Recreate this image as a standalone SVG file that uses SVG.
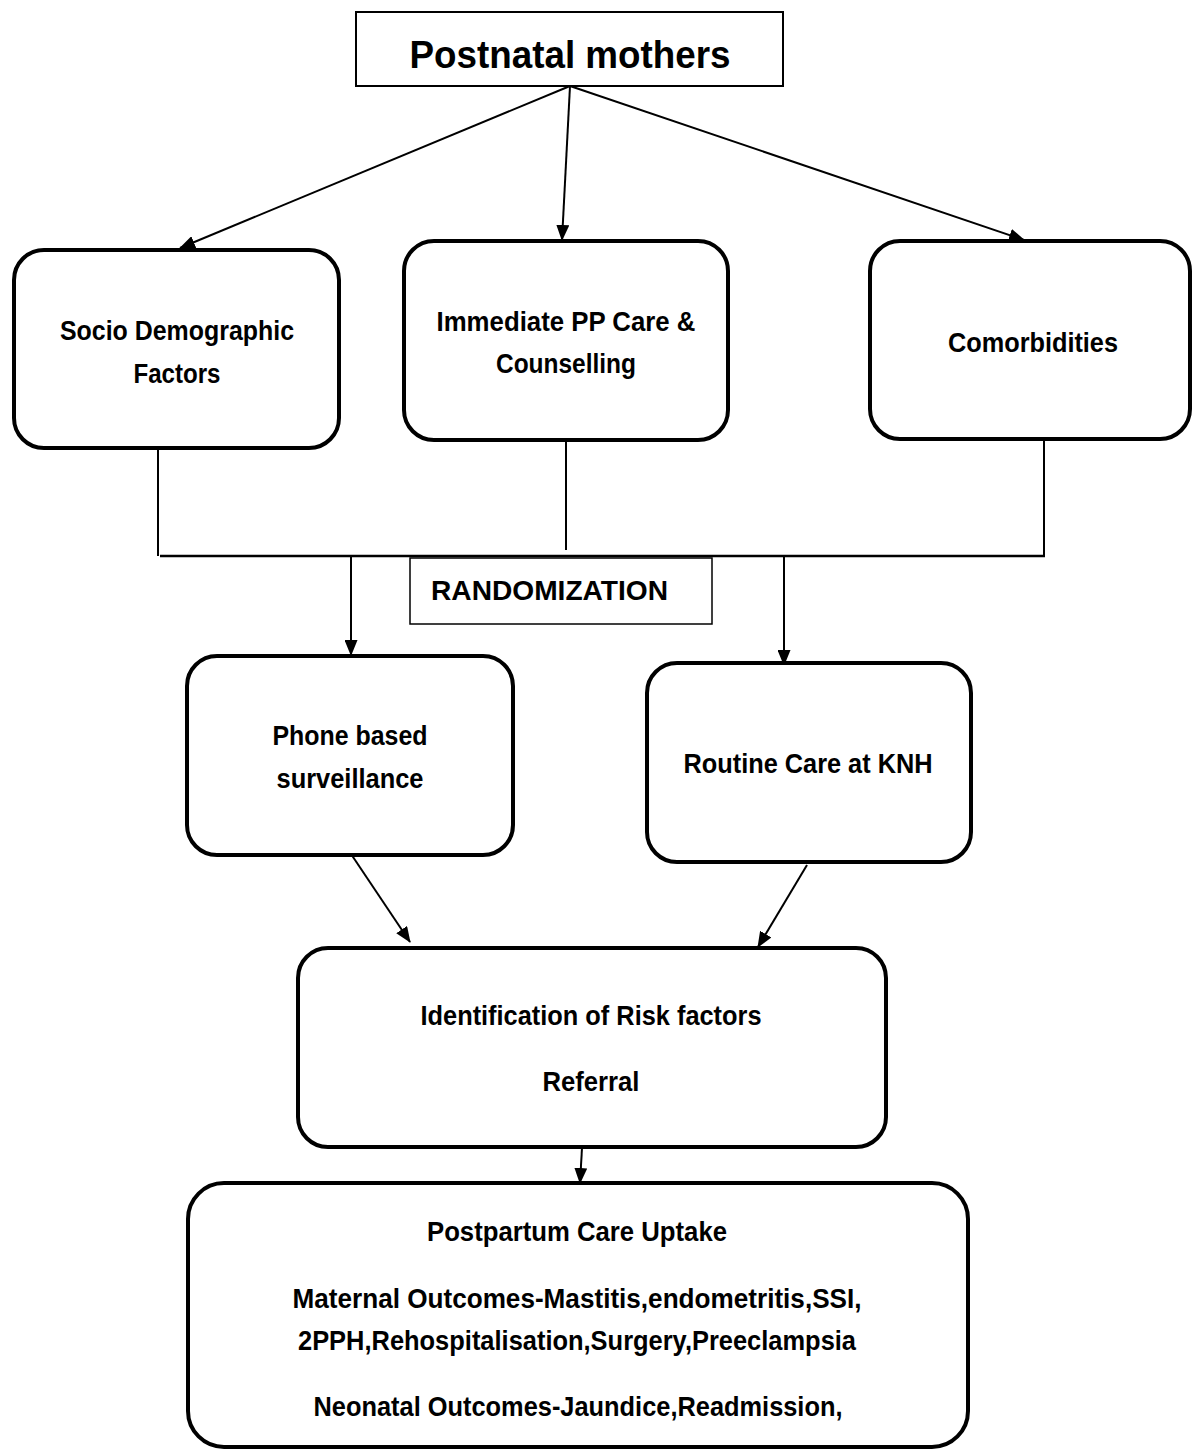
<svg xmlns="http://www.w3.org/2000/svg" width="1192" height="1450" viewBox="0 0 1192 1450">
<style>
  .bg { fill: #ffffff; }
  .node { fill: #ffffff; stroke: #000000; stroke-width: 4; }
  .plain { fill: #ffffff; stroke: #000000; stroke-width: 2; }
  .thin { fill: #ffffff; stroke: #000000; stroke-width: 1.5; }
  .t { font-family: "Liberation Sans", Arial, sans-serif; font-weight: bold; fill: #000000; text-anchor: middle; font-size: 28px; }
  .conn { stroke: #000000; stroke-width: 2; fill: none; }
</style>
<defs>
  <marker id="arr" markerUnits="userSpaceOnUse" markerWidth="16" markerHeight="13" refX="15" refY="6.5" orient="auto">
    <path d="M0,0 L16,6.5 L0,13 Z" fill="#000000"/>
  </marker>
</defs>
<rect class="bg" x="0" y="0" width="1192" height="1450"/>

<g id="connectors">
  <line class="conn" x1="570" y1="86" x2="180" y2="248" marker-end="url(#arr)"/>
  <line class="conn" x1="570" y1="86" x2="562" y2="240" marker-end="url(#arr)"/>
  <line class="conn" x1="570" y1="86" x2="1024" y2="240" marker-end="url(#arr)"/>
  <line class="conn" x1="158" y1="450" x2="158" y2="556"/>
  <line class="conn" x1="566" y1="441" x2="566" y2="550"/>
  <line class="conn" x1="1044" y1="435" x2="1044" y2="557"/>
  <line class="conn" x1="160" y1="556" x2="1045" y2="556" style="stroke-width:2.5"/>
  <line class="conn" x1="351" y1="557" x2="351" y2="655" marker-end="url(#arr)"/>
  <line class="conn" x1="784" y1="557" x2="784" y2="665" marker-end="url(#arr)"/>
  <line class="conn" x1="349" y1="851" x2="410" y2="942" marker-end="url(#arr)"/>
  <line class="conn" x1="807" y1="865" x2="758" y2="947" marker-end="url(#arr)"/>
  <line class="conn" x1="582" y1="1148" x2="580" y2="1183" marker-end="url(#arr)"/>
</g>

<g id="postnatal-mothers">
  <rect class="plain" x="356" y="12" width="427" height="74"/>
  <text class="t" x="570" y="68" style="font-size:39px" textLength="321" lengthAdjust="spacingAndGlyphs">Postnatal mothers</text>
</g>

<g id="socio-demographic">
  <rect class="node" x="14" y="250" width="325" height="198" rx="30" ry="30"/>
  <text class="t" x="177" y="340" textLength="234" lengthAdjust="spacingAndGlyphs">Socio Demographic</text>
  <text class="t" x="177" y="383" textLength="87" lengthAdjust="spacingAndGlyphs">Factors</text>
</g>

<g id="immediate-pp-care">
  <rect class="node" x="404" y="241" width="324" height="199" rx="30" ry="30"/>
  <text class="t" x="566" y="331" textLength="259" lengthAdjust="spacingAndGlyphs">Immediate PP Care &amp;</text>
  <text class="t" x="566" y="373" textLength="140" lengthAdjust="spacingAndGlyphs">Counselling</text>
</g>

<g id="comorbidities">
  <rect class="node" x="870" y="241" width="320" height="198" rx="30" ry="30"/>
  <text class="t" x="1033" y="352" textLength="170" lengthAdjust="spacingAndGlyphs">Comorbidities</text>
</g>

<g id="randomization">
  <rect class="thin" x="410" y="558" width="302" height="66"/>
  <text class="t" x="431" y="600" style="text-anchor:start" textLength="237" lengthAdjust="spacingAndGlyphs">RANDOMIZATION</text>
</g>

<g id="phone-surveillance">
  <rect class="node" x="187" y="656" width="326" height="199" rx="30" ry="30"/>
  <text class="t" x="350" y="745" textLength="155" lengthAdjust="spacingAndGlyphs">Phone based</text>
  <text class="t" x="350" y="788" textLength="147" lengthAdjust="spacingAndGlyphs">surveillance</text>
</g>

<g id="routine-care">
  <rect class="node" x="647" y="663" width="324" height="199" rx="30" ry="30"/>
  <text class="t" x="808" y="773" textLength="249" lengthAdjust="spacingAndGlyphs">Routine Care at KNH</text>
</g>

<g id="identification">
  <rect class="node" x="298" y="948" width="588" height="199" rx="30" ry="30"/>
  <text class="t" x="591" y="1025" textLength="341" lengthAdjust="spacingAndGlyphs">Identification of Risk factors</text>
  <text class="t" x="591" y="1091" textLength="97" lengthAdjust="spacingAndGlyphs">Referral</text>
</g>

<g id="outcomes">
  <rect class="node" x="188" y="1183" width="780" height="264" rx="36" ry="36"/>
  <text class="t" x="577" y="1241" textLength="300" lengthAdjust="spacingAndGlyphs">Postpartum Care Uptake</text>
  <text class="t" x="577" y="1308" textLength="569" lengthAdjust="spacingAndGlyphs">Maternal Outcomes-Mastitis,endometritis,SSI,</text>
  <text class="t" x="577" y="1350" textLength="558" lengthAdjust="spacingAndGlyphs">2PPH,Rehospitalisation,Surgery,Preeclampsia</text>
  <text class="t" x="578" y="1416" textLength="529" lengthAdjust="spacingAndGlyphs">Neonatal Outcomes-Jaundice,Readmission,</text>
</g>
</svg>
